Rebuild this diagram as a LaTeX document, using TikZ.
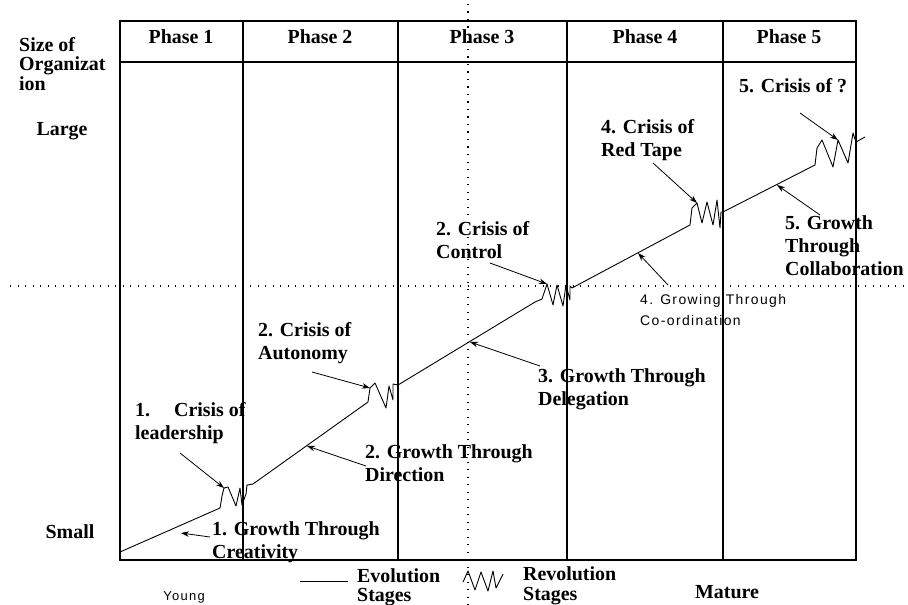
\documentclass[tikz,border=0pt]{standalone}
\usepackage{fontspec}
\setmainfont{Liberation Serif}
\newfontfamily\faintsans[LetterSpace=10]{Liberation Sans}
\usetikzlibrary{arrows.meta,positioning}
\tikzset{
  lbl/.style={font=\bfseries\fontsize{20}{23}\selectfont,align=left,inner sep=0pt},
  faint/.style={font=\faintsans\fontsize{14}{21}\selectfont,align=left,inner sep=0pt},
  tabline/.style={line width=1.5bp},
  dotline/.style={line width=1.3bp,dash pattern=on 1.3bp off 6.2bp},
  growth/.style={line width=0.9bp,line join=round},
  ptr/.style={-{Stealth[length=8bp,width=5.5bp]},line width=0.8bp}
}

\begin{document}
\begin{tikzpicture}[x=1bp,y=-1bp]
    \fill[white] (0,0) rectangle (908,605);
    \useasboundingbox (0,0) rectangle (908,605);

    \draw[tabline] (120,21) rectangle (856,560);
    \draw[tabline] (120,62) -- (856,62);
    \foreach \x in {243,398,567,723}
      \draw[tabline] (\x,21) -- (\x,560);
    \foreach \x/\t [count=\i] in {181/Phase 1,320/Phase 2,482/Phase 3,645/Phase 4,789/Phase 5}
      \node[lbl] (h\i) at (\x,37) {\t};

    \draw[dotline] (468,4) -- (468,605);
    \draw[dotline] (10,286) -- (908,286);

    \node[lbl,anchor=west,font=\bfseries\fontsize{20}{19.5}\selectfont] (size) at (19,64) {Size of\\Organizat\\ion};
    \node[lbl] (large) at (62,131) {Large};
    \node[lbl] (small) at (70,532) {Small};
    \node[faint,font=\faintsans\fontsize{13}{15}\selectfont] (young) at (184,597) {Young};
    \node[lbl] (mature) at (727,592) {Mature};

    % evolution line with the revolutions
    \draw[growth] (120,552) -- (220,508)
      -- (222,496) -- (224,488) coordinate (k1) -- (228,487) -- (236,506) -- (240,488) -- (242,505)
      -- (246,494) -- (247,485) -- (253,484) -- (368,402)
      -- (370,388) coordinate (k2) -- (375,383) -- (386,408) -- (389,386) -- (393,400) -- (393,384)
      -- (398,385) -- (535,302)
      -- (542,299) -- (547,284) coordinate (k3) -- (553,305) -- (557,285) -- (563,306) -- (566,285)
      -- (570,300) -- (570,286) -- (572,288) -- (690,225)
      -- (692,208) -- (697,203) coordinate (k4) -- (702,223) -- (707,202) -- (713,225) -- (717,200)
      -- (720,228) -- (721,212) -- (723,212) -- (815,165)
      -- (817,148) -- (822,140) -- (833,167) -- (838,140) coordinate (k5) -- (848,163) -- (853,133)
      -- (856,142) -- (865,137);

    \coordinate (e1) at (181,533);
    \coordinate (e2) at (307,446);
    \coordinate (e3) at (470,342);
    \coordinate (e4) at (638,253);
    \coordinate (e5) at (777,185);

    \node[lbl,anchor=west] (c1) at (135,423) {1.\hspace{24bp}Crisis of\\leadership};
    \node[lbl,anchor=west] (c2) at (258,343) {2. Crisis of\\Autonomy};
    \node[lbl,anchor=west] (c3) at (436,240) {2. Crisis of\\Control};
    \node[lbl,anchor=west] (c4) at (601,140) {4. Crisis of\\Red Tape};
    \node[lbl,anchor=west] (c5) at (739,86) {5. Crisis of ?};

    \node[lbl,anchor=west] (g1) at (212,542) {1. Growth Through\\Creativity};
    \node[lbl,anchor=west] (g2) at (365,463) {2. Growth Through\\Direction};
    \node[lbl,anchor=west] (g3) at (538,389) {3. Growth Through\\Delegation};
    \node[faint,anchor=west] (g4) at (640,310) {4. Growing Through\\Co-ordination};
    \node[lbl,anchor=west] (g5) at (785,246) {5. Growth\\Through\\Collaboration};

    \coordinate (c1t) at (180,453);
    \coordinate (c2t) at (312,372);
    \coordinate (c3t) at (490,263);
    \coordinate (c4t) at (653,163);
    \coordinate (c5t) at (800,113);
    \coordinate (g1t) at (210,537);
    \coordinate (g2t) at (366,466);
    \coordinate (g3t) at (540,366);
    \coordinate (g4t) at (668,285);
    \coordinate (g5t) at (820,215);

    \foreach \i in {1,...,5} {
      \draw[ptr] (c\i t) -- (k\i);
      \draw[ptr] (g\i t) -- (e\i);
    }

    % legend
    \draw[growth] (300,581) -- (348,581);
    \node[lbl,anchor=west,font=\bfseries\fontsize{20}{19}\selectfont] (evo) at (357,587) {Evolution\\Stages};
    \draw[growth] (463,582) -- (468,571) -- (475,590) -- (481,572) -- (488,591) -- (493,571)
      -- (496,588) -- (503,574);
    \node[lbl,anchor=west,font=\bfseries\fontsize{20}{20}\selectfont] (rev) at (523,586) {Revolution\\Stages};
\end{tikzpicture}
\end{document}
